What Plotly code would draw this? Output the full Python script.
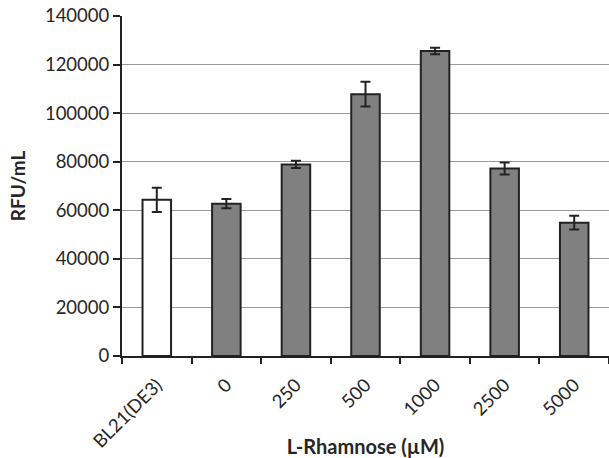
import plotly.graph_objects as go

categories = ["BL21(DE3)", "0", "250", "500", "1000", "2500", "5000"]
values = [64300, 62700, 78900, 107800, 125600, 77200, 54900]
errors = [5000, 1900, 1500, 5100, 1300, 2500, 2800]
bar_colors = ["#ffffff", "#808080", "#808080", "#808080", "#808080", "#808080", "#808080"]

FONT = "Lato"

fig = go.Figure()
fig.add_trace(go.Bar(
    x=categories, y=values,
    marker=dict(color=bar_colors, line=dict(color="#222222", width=2)),
    width=0.41,
    error_y=dict(type="data", array=errors, visible=True, color="#222222", thickness=2, width=5),
))

fig.update_layout(
    width=609, height=458,
    margin=dict(l=122, r=0, t=16, b=102),
    plot_bgcolor="white", paper_bgcolor="white",
    showlegend=False,
    font=dict(family=FONT, color="#262626", size=18),
    bargap=0.59,
)
fig.update_yaxes(
    range=[0, 140000], dtick=20000,
    showgrid=True, gridcolor="#9a9a9a", gridwidth=1,
    showline=True, linecolor="#222222", linewidth=2,
    ticks="outside", ticklen=7, tickcolor="#222222", tickwidth=2,
    tickfont=dict(size=18.5, family=FONT, color="#262626"),
    title=dict(text="<b>RFU/mL</b>", font=dict(size=19, family=FONT, color="#262626"), standoff=14),
    zeroline=False, tickformat="d", automargin=False,
)
fig.update_xaxes(
    type="category", range=[-0.5, 6.5],
    showline=True, linecolor="#222222", linewidth=2,
    ticks="outside", tickson="boundaries", ticklen=6, tickcolor="#222222", tickwidth=2,
    tickangle=-45, tickfont=dict(size=18.5, family=FONT, color="#262626"),
    ticklabelstandoff=9,
    title=dict(text="<b>L-Rhamnose (µM)</b>", font=dict(size=20, family=FONT, color="#262626"), standoff=7),
    automargin=False,
)

fig.write_html("out.html")
